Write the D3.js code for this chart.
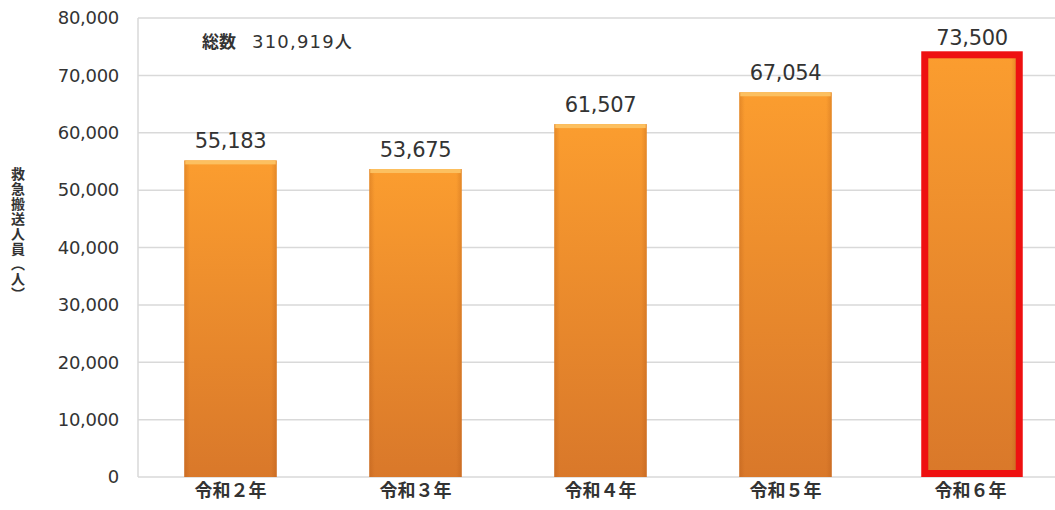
<!DOCTYPE html>
<html><head><meta charset="utf-8">
<script src="https://cdn.jsdelivr.net/npm/d3@7"></script>
<style>body{margin:0;background:#fff}svg{display:block}</style>
</head><body>
<svg id="c" width="1055" height="510"></svg>
<script>
const categories = ["令和２年","令和３年","令和４年","令和５年","令和６年"];
const values = [55183, 53675, 61507, 67054, 73500];
const yTicks = [0,10000,20000,30000,40000,50000,60000,70000,80000];
const highlightIndex = 4;
const totalPrefix = "総数";
const totalValue = "310,919";
const totalUnit = "人";
const yTitle = "救急搬送人員（人）";

(function(){
const svg = d3.select("#c");
const pLeft = 138, pRight = 1063, pTop = 18, pBottom = 477;
const x = d3.scaleBand().domain(categories).range([pLeft, pRight]).paddingInner(0.5).paddingOuter(0.25);
const y = d3.scaleLinear().domain([0, 80000]).range([pBottom, pTop]);
const numFont = "DejaVu Sans, Verdana, sans-serif";
const cjkFont = "Noto Sans CJK JP, sans-serif";

const defs = svg.append("defs");
const g1 = defs.append("linearGradient").attr("id","barg").attr("x1",0).attr("y1",0).attr("x2",0).attr("y2",1);
g1.append("stop").attr("offset","0%").attr("stop-color","#fb9d2f");
g1.append("stop").attr("offset","100%").attr("stop-color","#d9782a");
const g2 = defs.append("linearGradient").attr("id","sideg").attr("x1",0).attr("y1",0).attr("x2",1).attr("y2",0);
g2.append("stop").attr("offset","0%").attr("stop-color","#a04a10").attr("stop-opacity",0.25);
g2.append("stop").attr("offset","6%").attr("stop-color","#a04a10").attr("stop-opacity",0);
g2.append("stop").attr("offset","94%").attr("stop-color","#a04a10").attr("stop-opacity",0);
g2.append("stop").attr("offset","100%").attr("stop-color","#a04a10").attr("stop-opacity",0.25);

// gridlines
svg.append("g").selectAll("line").data(yTicks).join("line")
  .attr("x1", pLeft).attr("x2", 1055)
  .attr("y1", d => y(d)).attr("y2", d => y(d))
  .attr("stroke", "#d9d9d9").attr("stroke-width", 1.5);
svg.append("line").attr("x1", pLeft).attr("x2", pLeft).attr("y1", y(80000)).attr("y2", y(0))
  .attr("stroke", "#d9d9d9").attr("stroke-width", 1.5);

// y axis labels
const yAxis = d3.axisLeft(y).tickValues(yTicks).tickSize(0).tickPadding(0).tickFormat(d3.format(","));
const ya = svg.append("g").attr("transform", `translate(${pLeft - 19},0)`).call(yAxis);
ya.select(".domain").remove();
ya.selectAll("text").attr("font-family",numFont).attr("font-size",18)
  .attr("fill","#333").attr("letter-spacing","-0.3px");

// bars
const bars = svg.append("g").selectAll("g").data(values).join("g");
bars.append("rect")
  .attr("x", (d,i) => x(categories[i])).attr("width", x.bandwidth())
  .attr("y", d => y(d)).attr("height", d => y(0) - y(d))
  .attr("fill", "url(#barg)");
bars.append("rect")
  .attr("x", (d,i) => x(categories[i])).attr("width", x.bandwidth())
  .attr("y", d => y(d)).attr("height", d => y(0) - y(d))
  .attr("fill", "url(#sideg)");
bars.filter((d,i) => i !== highlightIndex).append("rect")
  .attr("x", d => x(categories[values.indexOf(d)]) + 1).attr("width", x.bandwidth() - 2)
  .attr("y", d => y(d)).attr("height", 4)
  .attr("fill", "#fcc060");
// highlight border
svg.append("rect")
  .attr("x", x(categories[highlightIndex]) + 0.5).attr("width", x.bandwidth() + 2)
  .attr("y", y(values[highlightIndex]) - 0.5).attr("height", y(0) - y(values[highlightIndex]) - 3)
  .attr("fill", "none").attr("stroke", "#ee1111").attr("stroke-width", 7);

// value labels
svg.append("g").selectAll("text").data(values).join("text")
  .attr("x", (d,i) => x(categories[i]) + x.bandwidth()/2 + (i === highlightIndex ? 1.5 : 0))
  .attr("y", (d,i) => y(d) - (i === highlightIndex ? 10 : 12))
  .attr("text-anchor","middle")
  .attr("font-family",numFont).attr("font-size",21)
  .attr("fill","#333").attr("letter-spacing","-0.3px")
  .text(d => d3.format(",")(d));

// x labels
const xAxis = d3.axisBottom(x).tickSize(0).tickPadding(0);
const xa = svg.append("g").attr("transform", `translate(0,${pBottom + 5})`).call(xAxis);
xa.select(".domain").remove();
xa.selectAll("text").attr("font-family",cjkFont).attr("font-size",18)
  .attr("font-weight",700).attr("fill","#333").attr("dy","0.85em");

// total annotation
const tt = svg.append("text").attr("x", 202).attr("y", 48).attr("fill","#333");
tt.append("tspan").attr("font-family",cjkFont).attr("font-size",17).attr("font-weight",700).text(totalPrefix);
tt.append("tspan").attr("dx", 16).attr("font-family",numFont).attr("font-size",18).attr("letter-spacing","1.2px").text(totalValue);
tt.append("tspan").attr("font-family",cjkFont).attr("font-size",17).attr("font-weight",500).text(totalUnit);

// y title
svg.append("text").attr("transform","translate(18,234)")
  .attr("writing-mode","vertical-rl").attr("text-anchor","middle")
  .attr("font-family",cjkFont).attr("font-size",14).attr("font-weight",700)
  .attr("fill","#333").attr("letter-spacing","1px").text(yTitle);
})();
</script>
</body></html>
